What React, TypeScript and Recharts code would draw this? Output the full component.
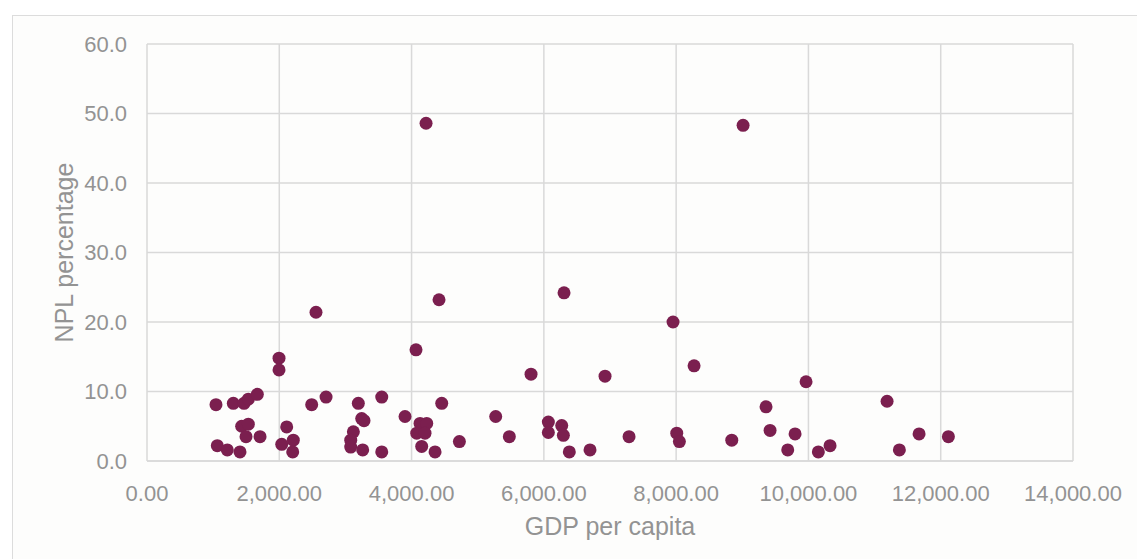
import React from 'react';
import { ScatterChart, Scatter, XAxis, YAxis, CartesianGrid } from 'recharts';

const gdpPerCapita = [
  1043, 1063, 1214, 1406, 1305, 1467, 1532, 1668, 1431, 1532, 1497, 1709,
  1996, 1996, 2112, 2037, 2212, 2203, 2490, 2555, 2707, 3195, 3549, 3246,
  3281, 3120, 3080, 3080, 3261, 3549, 3901, 4067, 4128, 4229, 4078, 4203,
  4153, 4355, 4219, 4415, 4456, 4723, 5272, 5478, 5806, 6068, 6068, 6270,
  6295, 6305, 6385, 6698, 6925, 7288, 7953, 8009, 8049, 8271, 8841, 9012,
  9359, 9420, 9687, 9798, 9964, 10150, 10327, 11189, 11375, 11673, 12116,
];
const nplPercentage = [
  8.1, 2.2, 1.6, 1.3, 8.3, 8.3, 8.9, 9.6, 5.0, 5.3, 3.5, 3.5,
  14.8, 13.1, 4.9, 2.4, 3.0, 1.3, 8.1, 21.4, 9.2, 8.3, 9.2, 6.1,
  5.8, 4.2, 3.0, 2.0, 1.6, 1.3, 6.4, 16.0, 5.4, 5.4, 4.0, 4.0,
  2.1, 1.3, 48.6, 23.2, 8.3, 2.8, 6.4, 3.5, 12.5, 5.6, 4.1, 5.1,
  3.7, 24.2, 1.3, 1.6, 12.2, 3.5, 20.0, 4.0, 2.8, 13.7, 3.0, 48.3,
  7.8, 4.4, 1.6, 3.9, 11.4, 1.3, 2.2, 8.6, 1.6, 3.9, 3.5,
];
const xTicks = [0, 2000, 4000, 6000, 8000, 10000, 12000, 14000];
const yTicks = [0, 10, 20, 30, 40, 50, 60];

const data = gdpPerCapita.map((g, i) => ({ gdp: g, npl: nplPercentage[i] }));

const FONT = '"Liberation Sans", Arial, sans-serif';
const TEXT = '#939393';
const GRID = '#d9d9d9';
const DOT = '#7b1f4f';

const fmtX = (v: number) =>
  v.toLocaleString('en-US', { minimumFractionDigits: 2, maximumFractionDigits: 2 });
const fmtY = (v: number) => v.toFixed(1);

export default function App() {
  return (
    <div style={{ position: 'absolute', left: 0, top: 0, width: 1137, height: 559, overflow: 'hidden', background: '#ffffff' }}>
      <div
        style={{
          position: 'absolute',
          left: 12,
          top: 15,
          width: 1200,
          height: 600,
          border: '1px solid #dcdcdc',
          background: '#fdfdfc',
        }}
      />
      <div style={{ position: 'absolute', left: 0, top: 0 }}>
        <ScatterChart width={1137} height={559} margin={{ top: 44, right: 64, bottom: 0, left: 0 }}>
          <CartesianGrid stroke={GRID} strokeWidth={1.5} />
          <XAxis
            type="number"
            dataKey="gdp"
            domain={[0, 14000]}
            ticks={xTicks}
            tickFormatter={fmtX}
            height={98}
            axisLine={{ stroke: GRID, strokeWidth: 1.5 }}
            tickLine={false}
            tickSize={0}
            tickMargin={24}
            interval={0}
            tick={{ fill: TEXT, fontSize: 22, fontFamily: FONT }}
            label={{
              value: 'GDP per capita',
              position: 'insideBottom',
              offset: 24,
              style: { fill: TEXT, fontSize: 25, fontFamily: FONT },
            }}
            allowDataOverflow
          />
          <YAxis
            type="number"
            dataKey="npl"
            domain={[0, 60]}
            ticks={yTicks}
            tickFormatter={fmtY}
            width={147}
            axisLine={false}
            tickLine={false}
            tickSize={0}
            tickMargin={20}
            interval={0}
            tick={{ fill: TEXT, fontSize: 22, fontFamily: FONT }}
            label={{
              value: 'NPL percentage',
              angle: -90,
              position: 'insideLeft',
              offset: 64,
              style: { fill: TEXT, fontSize: 25, fontFamily: FONT, textAnchor: 'middle' },
            }}
            allowDataOverflow
          />
          <Scatter
            data={data}
            isAnimationActive={false}
            shape={(p: any) => <circle cx={p.cx} cy={p.cy} r={6.5} fill={DOT} />}
          />
        </ScatterChart>
      </div>
    </div>
  );
}
